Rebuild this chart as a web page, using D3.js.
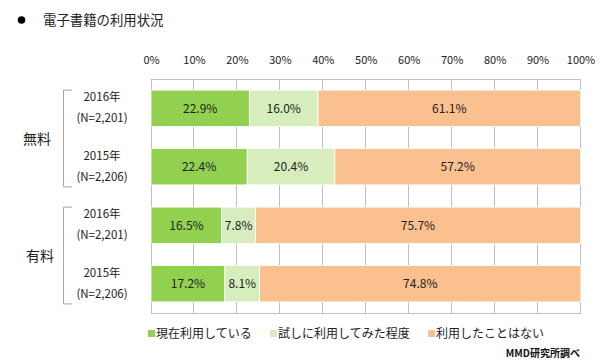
<!DOCTYPE html>
<html><head><meta charset="utf-8">
<script src="https://cdn.jsdelivr.net/npm/d3@7/dist/d3.min.js"></script>
<style>body{margin:0;background:#fff;}svg{display:block;font-family:"Noto Sans CJK JP","Noto Sans",sans-serif;}</style>
</head><body><svg id="c" width="600" height="363"></svg>
<script>
const title = "電子書籍の利用状況";
const groups = ["無料", "有料"];
const years = ["2016年", "2015年", "2016年", "2015年"];
const samples = ["(N=2,201)", "(N=2,206)", "(N=2,201)", "(N=2,206)"];
const rowGroup = [0, 0, 1, 1];
const seriesNames = ["現在利用している", "試しに利用してみた程度", "利用したことはない"];
const using = [22.9, 22.4, 16.5, 17.2];
const tried = [16.0, 20.4, 7.8, 8.1];
const never = [61.1, 57.2, 75.7, 74.8];
const ticks = [0, 10, 20, 30, 40, 50, 60, 70, 80, 90, 100];
const source = "MMD研究所調べ";
const colors = ["#92d050", "#d7edbe", "#fac090"];

const svg = d3.select("#c");
const x = d3.scaleLinear().domain([0, 100]).range([151, 580.5]);
const rows = d3.range(years.length);
const y = d3.scaleBand().domain(rows).range([79, 313]).paddingInner(0.38).paddingOuter(0.19);

// title
svg.append("circle").attr("cx", 21.5).attr("cy", 20).attr("r", 3.8).attr("fill", "#000");
svg.append("text").attr("x", 43).attr("y", 25).attr("font-size", 13.4).attr("fill", "#222").text(title);

// grid
const grid = svg.append("g");
grid.selectAll("line.v").data(ticks).join("line")
  .attr("x1", d => x(d)).attr("x2", d => x(d)).attr("y1", 79).attr("y2", 313)
  .attr("stroke", "#bfbfbf").attr("stroke-width", 1).attr("shape-rendering", "crispEdges");
grid.append("line").attr("x1", x(0)).attr("x2", x(100)).attr("y1", 79).attr("y2", 79)
  .attr("stroke", "#bfbfbf").attr("shape-rendering", "crispEdges");
grid.append("line").attr("x1", x(0)).attr("x2", x(100)).attr("y1", 313).attr("y2", 313)
  .attr("stroke", "#bfbfbf").attr("shape-rendering", "crispEdges");

// axis tick labels
const axis = d3.axisTop(x).tickValues(ticks).tickFormat(d => d + "%").tickSize(0).tickPadding(0);
const ag = svg.append("g").attr("transform", "translate(0,64)").call(axis);
ag.select(".domain").remove();
ag.selectAll("text").attr("font-size", 11).attr("fill", "#222")
  .attr("font-family", '"Noto Sans CJK JP","Noto Sans",sans-serif');

// stacked bars
const table = rows.map(i => ({i, vals: [using[i], tried[i], never[i]]}));
const stackData = table.map(r => {
  let acc = 0;
  return r.vals.map((v, k) => { const s = {row: r.i, k, v, x0: acc, x1: acc + v}; acc += v; return s; });
}).flat();
const bars = svg.append("g");
bars.selectAll("rect").data(stackData).join("rect")
  .attr("x", d => x(d.x0)).attr("width", d => x(d.x1) - x(d.x0))
  .attr("y", d => y(d.row)).attr("height", y.bandwidth())
  .attr("fill", d => colors[d.k]).attr("stroke", "#fff").attr("stroke-width", 0.8);
bars.selectAll("text").data(stackData).join("text")
  .attr("x", d => (x(d.x0) + x(d.x1)) / 2).attr("y", d => y(d.row) + y.bandwidth() / 2 + 4.5)
  .attr("text-anchor", "middle").attr("font-size", 12).attr("fill", "#222")
  .text(d => d.v.toFixed(1) + "%");

// row labels
const lab = svg.append("g");
lab.selectAll("text.yr").data(rows).join("text").attr("class", "yr")
  .attr("x", 102).attr("y", i => y(i) + y.bandwidth() / 2 - 7).attr("text-anchor", "middle")
  .attr("font-size", 11.5).attr("fill", "#222").text(i => years[i]);
lab.selectAll("text.n").data(rows).join("text").attr("class", "n")
  .attr("x", 102).attr("y", i => y(i) + y.bandwidth() / 2 + 14).attr("text-anchor", "middle")
  .attr("font-size", 11.5).attr("fill", "#222").text(i => samples[i]);

// group brackets and labels
groups.forEach((g, gi) => {
  const rs = rows.filter(i => rowGroup[i] === gi);
  const top = y(rs[0]), bot = y(rs[rs.length - 1]) + y.bandwidth() + 2;
  svg.append("path").attr("d", `M72,${top}H63.5V${bot}H72`).attr("fill", "none")
    .attr("stroke", "#a6a6a6").attr("stroke-width", 1);
  svg.append("text").attr("x", gi === 0 ? 37 : 40).attr("y", (top + bot) / 2 + 5)
    .attr("text-anchor", "middle").attr("font-size", 14).attr("fill", "#222").text(g);
});

// legend
const legX = [148, 270, 428];
const leg = svg.append("g");
seriesNames.forEach((s, k) => {
  leg.append("rect").attr("x", legX[k]).attr("y", 330).attr("width", 7).attr("height", 7).attr("fill", colors[k]);
  leg.append("text").attr("x", legX[k] + 8).attr("y", 338).attr("font-size", 12).attr("fill", "#222").text(s);
});

// source
svg.append("text").attr("x", 580).attr("y", 357).attr("text-anchor", "end")
  .attr("font-size", 10).attr("font-weight", "bold").attr("fill", "#111").text(source);
</script></body></html>
